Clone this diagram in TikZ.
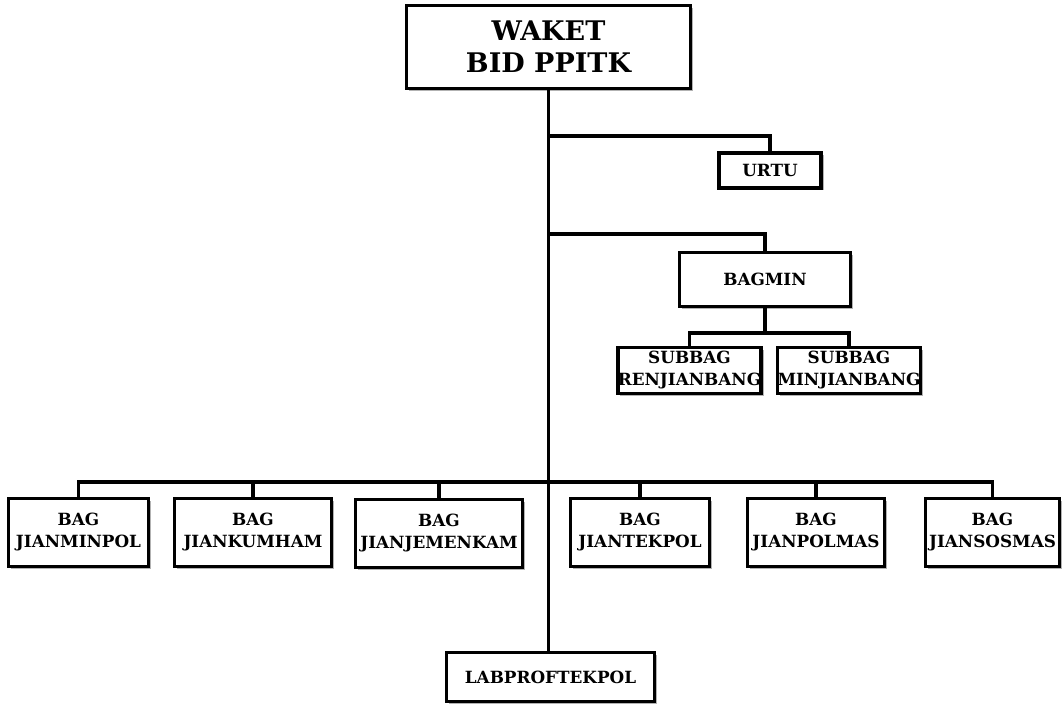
\documentclass[tikz,border=0pt]{standalone}
\usepackage{fontspec}
\setmainfont{DejaVu Serif}
\usetikzlibrary{shadows}
\begin{document}
\begin{tikzpicture}[x=1pt,y=-1pt,
  box/.style={draw=black, line width=3.4pt, fill=white, align=center, inner sep=0pt,
    font=\bfseries\fontsize{16.8}{22}\selectfont,
    drop shadow={shadow xshift=2.5pt, shadow yshift=-2.5pt, fill=black, opacity=0.3}},
  conn/.style={line width=3.3pt, line cap=rect}]
\useasboundingbox (0,0) rectangle (1063,708);
% top
\node[box, minimum width=284pt, minimum height=83pt, font=\bfseries\fontsize{27}{32}\selectfont] (waket) at (548.5,47) {WAKET\\BID PPITK};
\node[box, minimum width=102pt, minimum height=35pt, font=\bfseries\fontsize{16.8}{20}\selectfont] (urtu) at (770,170.5) {URTU};
\node[box, minimum width=171pt, minimum height=54pt] (bagmin) at (765,279.5) {BAGMIN};
\node[box, minimum width=140pt, minimum height=46pt] (renj) at (689.5,370.5) {SUBBAG\\RENJIANBANG};
\node[box, minimum width=139pt, minimum height=46pt] (minj) at (849,370.5) {SUBBAG\\MINJIANBANG};
% bottom row
\node[box, minimum width=140pt, minimum height=68pt] (b1) at (78.5,532.5) {BAG\\JIANMINPOL};
\node[box, minimum width=157pt, minimum height=68pt] (b2) at (253,532.5) {BAG\\JIANKUMHAM};
\node[box, minimum width=167pt, minimum height=68pt] (b3) at (439,533.5) {BAG\\JIANJEMENKAM};
\node[box, minimum width=139pt, minimum height=68pt] (b4) at (640,532.5) {BAG\\JIANTEKPOL};
\node[box, minimum width=137pt, minimum height=68pt] (b5) at (816,532.5) {BAG\\JIANPOLMAS};
\node[box, minimum width=134pt, minimum height=68pt] (b6) at (992.5,532.5) {BAG\\JIANSOSMAS};
\node[box, minimum width=208pt, minimum height=49pt] (lab) at (550.5,677) {LABPROFTEKPOL};
% junctions
\coordinate (jurtu) at (548.5,136);
\coordinate (jbag) at (548.5,234);
\coordinate (jsub) at (769,333);
\coordinate (jbus) at (548.5,482);
% connectors
\draw[conn, line cap=butt] (waket.south) -- (waket.south |- lab.north);
\draw[conn] (jurtu) -| (urtu.north);
\draw[conn] (jbag) -| (bagmin.north);
\draw[conn, line cap=butt] (bagmin.south) -- (bagmin.south |- jsub);
\draw[conn] (renj.north) |- (jsub) -| (minj.north);
\draw[conn] (b1.north) |- (jbus) -| (b6.north);
\draw[conn, line cap=butt] (b2.north) -- (b2.north |- jbus);
\draw[conn, line cap=butt] (b3.north) -- (b3.north |- jbus);
\draw[conn, line cap=butt] (b4.north) -- (b4.north |- jbus);
\draw[conn, line cap=butt] (b5.north) -- (b5.north |- jbus);
\end{tikzpicture}
\end{document}
